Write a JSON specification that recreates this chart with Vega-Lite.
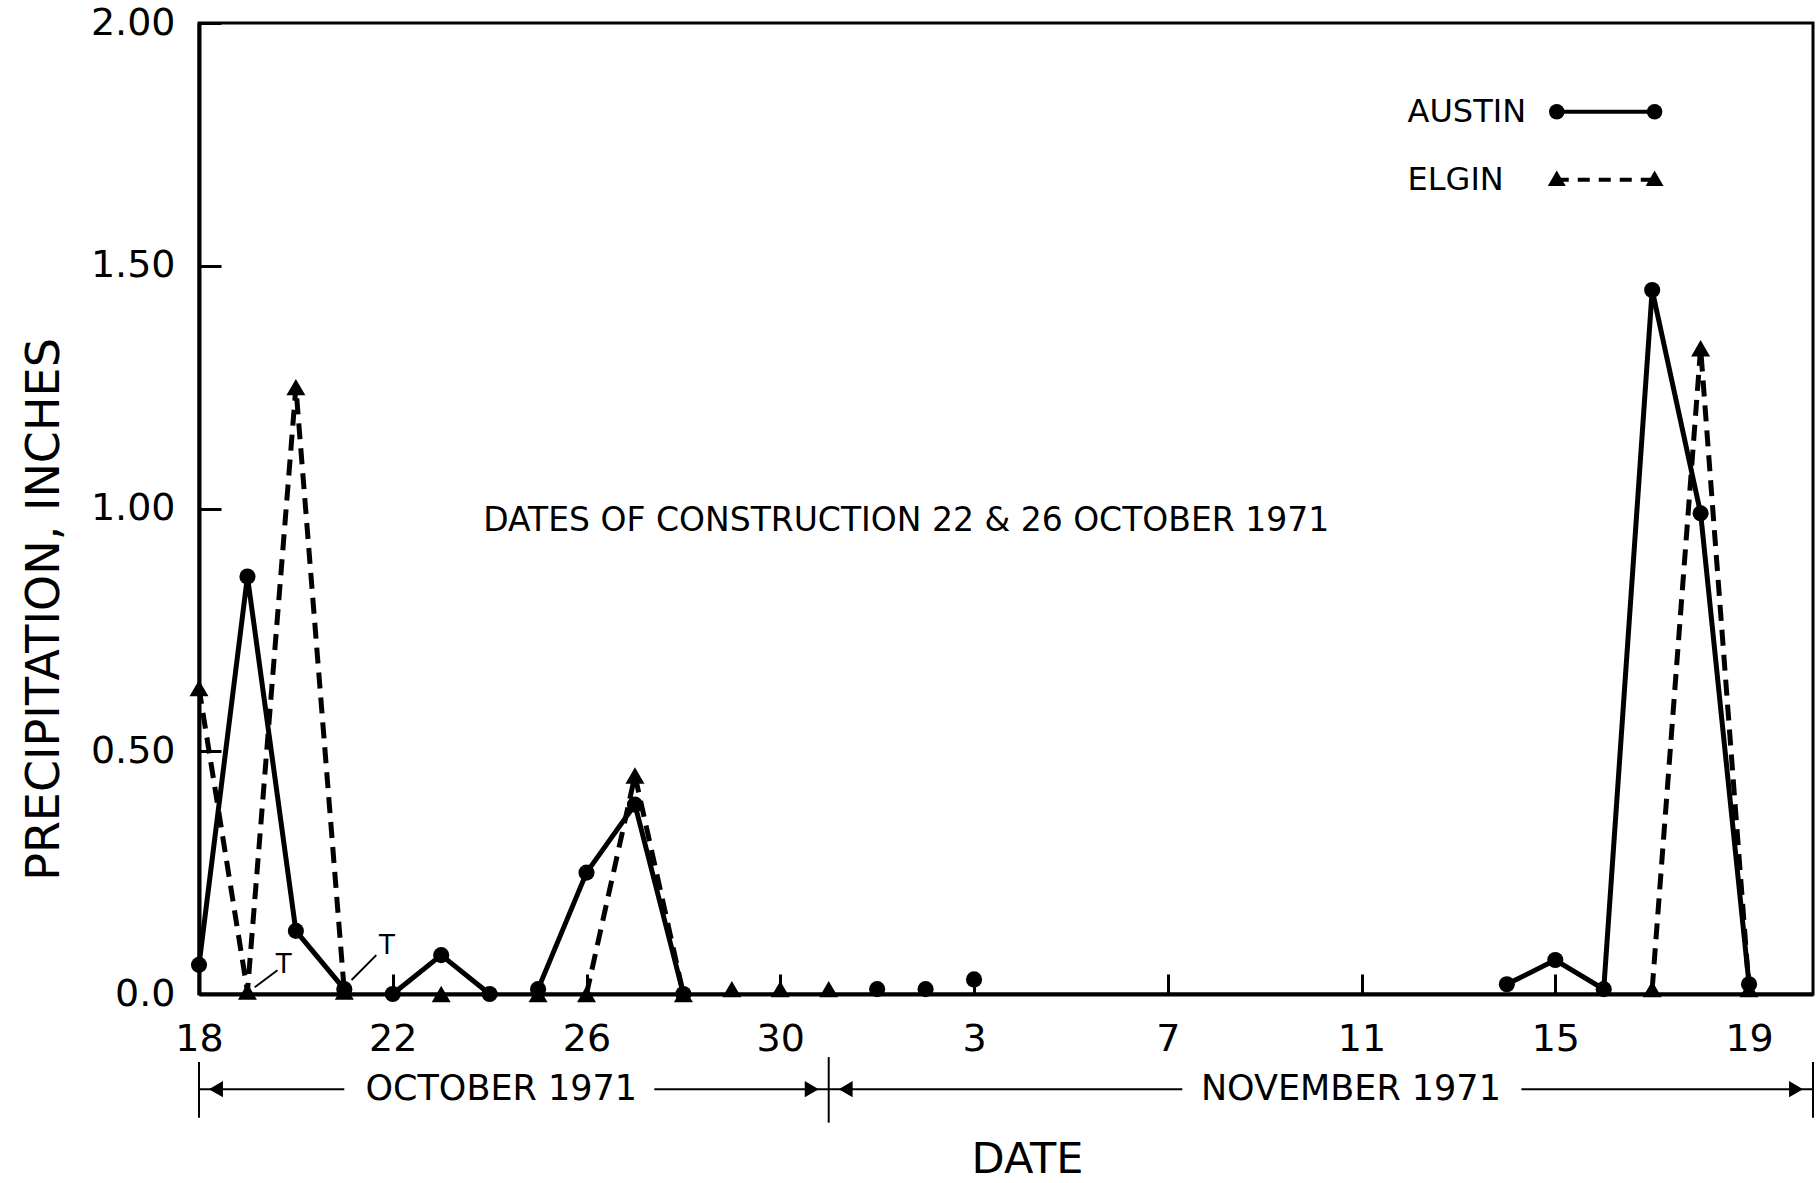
{
  "$schema": "https://vega.github.io/schema/vega-lite/v6.json",
  "width": 1614,
  "height": 971,
  "autosize": "none",
  "padding": {"left": 199, "top": 23, "right": 4, "bottom": 189},
  "background": "white",
  "config": {
    "font": "DejaVu Sans",
    "view": {"stroke": "black", "strokeWidth": 3},
    "axis": {"grid": false, "domainColor": "black", "domainWidth": 4, "tickColor": "black", "tickWidth": 3, "labelColor": "black", "titleColor": "black", "titleFontWeight": "normal", "labelFont": "DejaVu Sans", "titleFont": "DejaVu Sans"}
  },
  "datasets": {
    "precip": [
      {"station": "AUSTIN", "day": 0, "value": 0.06, "seg": "a1"},
      {"station": "AUSTIN", "day": 1, "value": 0.86, "seg": "a1"},
      {"station": "AUSTIN", "day": 2, "value": 0.13, "seg": "a1"},
      {"station": "AUSTIN", "day": 3, "value": 0.01, "seg": "a1"},
      {"station": "AUSTIN", "day": 4, "value": 0.0, "seg": "a2"},
      {"station": "AUSTIN", "day": 5, "value": 0.08, "seg": "a2"},
      {"station": "AUSTIN", "day": 6, "value": 0.0, "seg": "a2"},
      {"station": "AUSTIN", "day": 7, "value": 0.01, "seg": "a3"},
      {"station": "AUSTIN", "day": 8, "value": 0.25, "seg": "a3"},
      {"station": "AUSTIN", "day": 9, "value": 0.39, "seg": "a3"},
      {"station": "AUSTIN", "day": 10, "value": 0.0, "seg": "a3"},
      {"station": "AUSTIN", "day": 14, "value": 0.01, "seg": "none"},
      {"station": "AUSTIN", "day": 15, "value": 0.01, "seg": "none"},
      {"station": "AUSTIN", "day": 16, "value": 0.03, "seg": "none"},
      {"station": "AUSTIN", "day": 27, "value": 0.02, "seg": "a4"},
      {"station": "AUSTIN", "day": 28, "value": 0.07, "seg": "a4"},
      {"station": "AUSTIN", "day": 29, "value": 0.01, "seg": "a4"},
      {"station": "AUSTIN", "day": 30, "value": 1.45, "seg": "a4"},
      {"station": "AUSTIN", "day": 31, "value": 0.99, "seg": "a4"},
      {"station": "AUSTIN", "day": 32, "value": 0.02, "seg": "a4"},
      {"station": "ELGIN", "day": 0, "value": 0.63, "seg": "e1"},
      {"station": "ELGIN", "day": 1, "value": 0.005, "seg": "e1"},
      {"station": "ELGIN", "day": 2, "value": 1.25, "seg": "e1"},
      {"station": "ELGIN", "day": 3, "value": 0.005, "seg": "e1"},
      {"station": "ELGIN", "day": 5, "value": 0.0, "seg": "none"},
      {"station": "ELGIN", "day": 7, "value": 0.0, "seg": "none"},
      {"station": "ELGIN", "day": 8, "value": 0.0, "seg": "e2"},
      {"station": "ELGIN", "day": 9, "value": 0.45, "seg": "e2"},
      {"station": "ELGIN", "day": 10, "value": 0.0, "seg": "e2"},
      {"station": "ELGIN", "day": 11, "value": 0.01, "seg": "none"},
      {"station": "ELGIN", "day": 12, "value": 0.01, "seg": "none"},
      {"station": "ELGIN", "day": 13, "value": 0.01, "seg": "none"},
      {"station": "ELGIN", "day": 30, "value": 0.01, "seg": "e3"},
      {"station": "ELGIN", "day": 31, "value": 1.33, "seg": "e3"},
      {"station": "ELGIN", "day": 32, "value": 0.01, "seg": "e3"}
    ],
    "notes": [
      {"label": "T", "day": 1.75, "value": 0.06, "size": 26},
      {"label": "T", "day": 3.88, "value": 0.099, "size": 26},
      {"label": "DATES OF CONSTRUCTION  22 & 26  OCTOBER 1971", "day": 14.6, "value": 0.975, "size": 33},
      {"label": "OCTOBER 1971", "day": 6.24, "value": -0.196, "size": 35},
      {"label": "NOVEMBER 1971", "day": 23.78, "value": -0.196, "size": 35}
    ],
    "legendText": [
      {"label": "AUSTIN", "day": 24.95, "value": 1.817},
      {"label": "ELGIN", "day": 24.95, "value": 1.677}
    ],
    "segments": [
      {"kind": "solid", "day": 1.62, "day2": 1.15, "value": 0.049, "value2": 0.014, "w": 2},
      {"kind": "solid", "day": 3.66, "day2": 3.15, "value": 0.08, "value2": 0.029, "w": 2},
      {"kind": "solid", "day": 28.03, "day2": 30.05, "value": 1.817, "value2": 1.817, "w": 4},
      {"kind": "dash", "day": 28.03, "day2": 30.05, "value": 1.677, "value2": 1.677, "w": 4},
      {"kind": "solid", "day": 0, "day2": 3.0, "value": -0.196, "value2": -0.196, "w": 2},
      {"kind": "solid", "day": 9.4, "day2": 13.0, "value": -0.196, "value2": -0.196, "w": 2},
      {"kind": "solid", "day": 13.0, "day2": 20.3, "value": -0.196, "value2": -0.196, "w": 2},
      {"kind": "solid", "day": 27.3, "day2": 33.32, "value": -0.196, "value2": -0.196, "w": 2},
      {"kind": "solid", "day": 0, "day2": 0, "value": -0.14, "value2": -0.255, "w": 2},
      {"kind": "solid", "day": 13.0, "day2": 13.0, "value": -0.13, "value2": -0.265, "w": 2},
      {"kind": "solid", "day": 33.32, "day2": 33.32, "value": -0.14, "value2": -0.255, "w": 2}
    ],
    "markers": [
      {"shape": "circle", "day": 28.03, "value": 1.817, "size": 240},
      {"shape": "circle", "day": 30.05, "value": 1.817, "size": 240},
      {"shape": "triangle-up", "day": 28.03, "value": 1.68, "size": 320},
      {"shape": "triangle-up", "day": 30.05, "value": 1.68, "size": 320},
      {"shape": "triangle-left", "day": 0.35, "value": -0.196, "size": 260},
      {"shape": "triangle-right", "day": 12.65, "value": -0.196, "size": 260},
      {"shape": "triangle-left", "day": 13.35, "value": -0.196, "size": 260},
      {"shape": "triangle-right", "day": 32.97, "value": -0.196, "size": 260}
    ]
  },
  "encoding": {
    "x": {
      "field": "day",
      "type": "quantitative",
      "scale": {"domain": [0, 33.32], "nice": false, "zero": false},
      "axis": {
        "values": [0, 4, 8, 12, 16, 20, 24, 28, 32],
        "labelExpr": "'' + (datum.value <= 12 ? datum.value + 18 : datum.value - 13)",
        "labelFlush": false,
        "labelFontSize": 38,
        "tickSize": -20,
        "labelPadding": 46,
        "title": "DATE",
        "titleFontSize": 43,
        "titleX": 828,
        "titleY": 165,
        "titleBaseline": "middle"
      }
    },
    "y": {
      "field": "value",
      "type": "quantitative",
      "scale": {"domain": [0, 2], "nice": false, "zero": false},
      "axis": {
        "values": [0, 0.5, 1, 1.5, 2],
        "labelExpr": "datum.value == 0 ? '0.0' : format(datum.value, '.2f')",
        "labelFontSize": 38,
        "tickSize": -22,
        "labelPadding": 46,
        "title": "PRECIPITATION, INCHES",
        "titleFontSize": 46,
        "titlePadding": 22,
        "titleY": 586
      }
    }
  },
  "layer": [
    {
      "data": {"name": "precip"},
      "transform": [{"filter": "datum.station == 'AUSTIN' && datum.seg != 'none'"}],
      "mark": {"type": "line", "color": "black", "strokeWidth": 5},
      "encoding": {"detail": {"field": "seg"}}
    },
    {
      "data": {"name": "precip"},
      "transform": [{"filter": "datum.station == 'ELGIN' && datum.seg != 'none'"}],
      "mark": {"type": "line", "color": "black", "strokeWidth": 5, "strokeDash": [16, 9]},
      "encoding": {"detail": {"field": "seg"}}
    },
    {
      "data": {"name": "precip"},
      "transform": [{"filter": "datum.station == 'AUSTIN'"}],
      "mark": {"type": "point", "shape": "circle", "filled": true, "color": "black", "size": 260, "opacity": 1}
    },
    {
      "data": {"name": "precip"},
      "transform": [{"filter": "datum.station == 'ELGIN'"}],
      "mark": {"type": "point", "shape": "triangle-up", "filled": true, "color": "black", "size": 360, "opacity": 1}
    },
    {
      "data": {"name": "segments"},
      "transform": [{"filter": "datum.kind == 'solid'"}],
      "mark": {"type": "rule", "color": "black"},
      "encoding": {
        "x2": {"field": "day2"},
        "y2": {"field": "value2"},
        "strokeWidth": {"field": "w", "type": "quantitative", "scale": null}
      }
    },
    {
      "data": {"name": "segments"},
      "transform": [{"filter": "datum.kind == 'dash'"}],
      "mark": {"type": "rule", "color": "black", "strokeDash": [12, 9]},
      "encoding": {
        "x2": {"field": "day2"},
        "y2": {"field": "value2"},
        "strokeWidth": {"field": "w", "type": "quantitative", "scale": null}
      }
    },
    {
      "data": {"name": "markers"},
      "mark": {"type": "point", "filled": true, "color": "black", "opacity": 1},
      "encoding": {
        "shape": {"field": "shape", "type": "nominal", "scale": null},
        "size": {"field": "size", "type": "quantitative", "scale": null}
      }
    },
    {
      "data": {"name": "notes"},
      "mark": {"type": "text", "color": "black", "baseline": "middle", "align": "center", "font": "DejaVu Sans"},
      "encoding": {
        "text": {"field": "label"},
        "size": {"field": "size", "type": "quantitative", "scale": null}
      }
    },
    {
      "data": {"name": "legendText"},
      "mark": {"type": "text", "color": "black", "baseline": "middle", "align": "left", "fontSize": 32, "font": "DejaVu Sans"},
      "encoding": {"text": {"field": "label"}}
    }
  ]
}
